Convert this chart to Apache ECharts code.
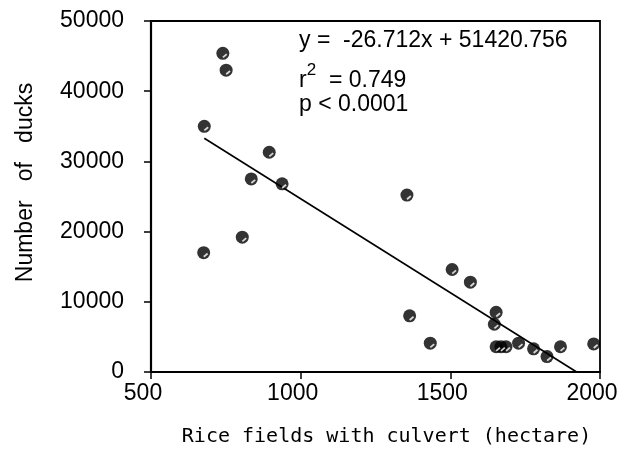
<!DOCTYPE html>
<html>
<head>
<meta charset="utf-8">
<script src="https://cdn.jsdelivr.net/npm/echarts@6/dist/echarts.min.js"></script>
<style>html,body{margin:0;padding:0;background:#fff;}#chart{width:622px;height:452px;}</style>
</head>
<body>
<div id="chart"></div>
<script>
// Rice fields with culvert (hectare)
const fieldArea = [740, 751, 678, 895, 835, 938, 805, 676, 1355, 1364, 1433, 1506, 1567, 1653, 1647, 1653, 1669, 1686, 1728, 1778, 1823, 1868, 1979];
// Number of ducks
const duckCount = [45400, 43000, 35000, 31300, 27500, 26800, 19200, 17000, 25200, 8000, 4100, 14600, 12800, 8500, 6800, 3600, 3600, 3600, 4100, 3300, 2200, 3600, 4000];
// regression line endpoints as drawn
const fitX = [678, 1922];
const fitY = [33300, 0];
const xTicks = [500, 1000, 1500, 2000];
const yTicks = [0, 10000, 20000, 30000, 40000, 50000];
const eqText = 'y =  -26.712x + 51420.756';
const r2Text = '0.749';
const pText = 'p < 0.0001';

const points = fieldArea.map((x, i) => [x, duckCount[i]]);
const fitLine = fitX.map((x, i) => [x, fitY[i]]);

const chart = echarts.init(document.getElementById('chart'), null, {renderer: 'canvas'});
const font = 'Liberation Sans, Arial, sans-serif';
chart.setOption({
  animation: false,
  backgroundColor: '#fff',
  grid: {left: 151, top: 21, right: 22, bottom: 80, show: true, borderColor: '#000', borderWidth: 1.8, backgroundColor: 'transparent'},
  xAxis: {
    type: 'value', min: xTicks[0], max: xTicks[xTicks.length - 1], interval: 500,
    name: 'Rice fields with culvert (hectare)', nameLocation: 'middle', nameGap: 55,
    nameTextStyle: {fontFamily: 'DejaVu Sans Mono, Liberation Mono, monospace', fontSize: 20, color: '#000', padding: [0, 0, 0, 22]},
    axisLine: {lineStyle: {color: '#000', width: 2.2}},
    axisTick: {inside: false, length: 7, lineStyle: {color: '#000', width: 1.5}},
    axisLabel: {fontFamily: font, fontSize: 23, color: '#000', margin: 10, padding: [0, 16, 0, 0], formatter: v => String(v)},
    splitLine: {show: false}
  },
  yAxis: {
    type: 'value', min: yTicks[0], max: yTicks[yTicks.length - 1], interval: 10000,
    name: 'Number   of   ducks', nameLocation: 'middle', nameGap: 114, nameRotate: 90,
    nameTextStyle: {fontFamily: font, fontSize: 23, color: '#000', padding: [0, 0, 0, 28]},
    axisLine: {lineStyle: {color: '#000', width: 2.2}},
    axisTick: {inside: false, length: 7, lineStyle: {color: '#000', width: 1.5}},
    axisLabel: {fontFamily: font, fontSize: 23, color: '#000', margin: 27, formatter: v => String(v)},
    splitLine: {show: false}
  },
  series: [
    {
      type: 'line', data: fitLine, symbol: 'none', silent: true,
      lineStyle: {color: '#000', width: 1.6}, z: 2
    },
    {
      type: 'scatter', data: points, symbol: 'circle', symbolSize: 13,
      itemStyle: {color: '#000'}, z: 3
    },
    {
      type: 'scatter', data: points, symbol: 'rect', symbolSize: [5, 1.8], symbolRotate: 40,
      symbolOffset: [2, 2.5], itemStyle: {color: '#fff'}, z: 4, silent: true
    }
  ],
  graphic: [
    {type: 'text', left: 299, top: 29, style: {text: eqText, font: '23px ' + font, fill: '#000'}},
    {type: 'text', left: 299, top: 62, style: {
      text: '{b|r}{s|2}{b|  = ' + r2Text + '}',
      rich: {b: {fontFamily: font, fontSize: 23, color: '#000', verticalAlign: 'bottom', lineHeight: 30},
             s: {fontFamily: font, fontSize: 17, color: '#000', verticalAlign: 'top', lineHeight: 30}}
    }},
    {type: 'text', left: 299, top: 93, style: {text: pText, font: '23px ' + font, fill: '#000'}}
  ]
});
</script>
</body>
</html>
